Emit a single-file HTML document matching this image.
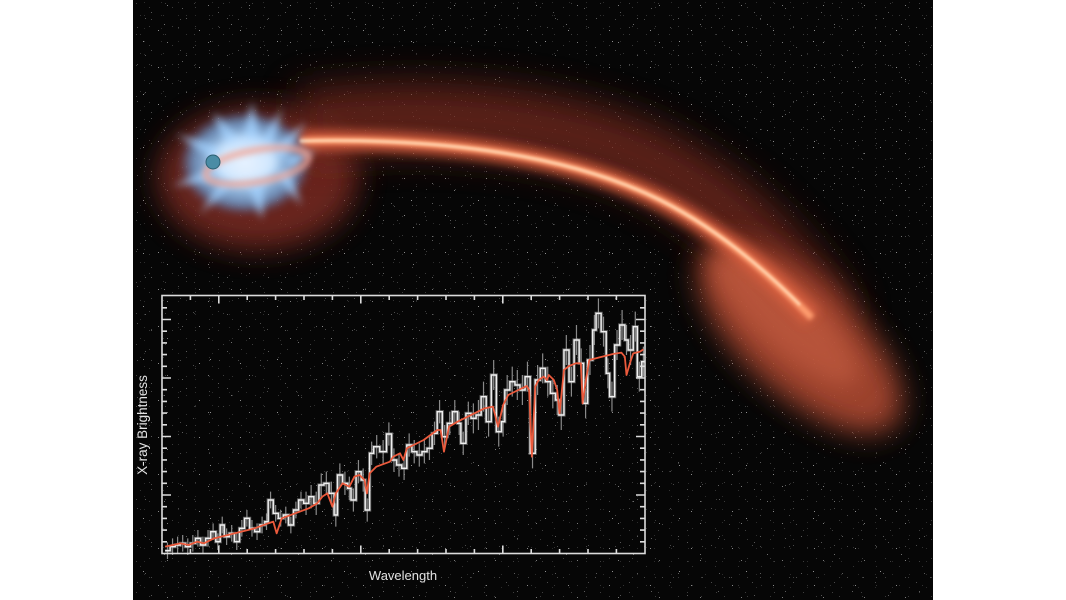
<!DOCTYPE html>
<html><head><meta charset="utf-8">
<style>
html,body{margin:0;padding:0;background:#fff;width:1066px;height:600px;overflow:hidden;}
svg{position:absolute;left:0;top:0;display:block;}
</style></head>
<body>
<svg width="1066" height="600" viewBox="0 0 1066 600" xmlns="http://www.w3.org/2000/svg">
<defs>
  <clipPath id="panel"><rect x="133" y="0" width="800" height="600"/></clipPath>
  <filter id="b18" filterUnits="userSpaceOnUse" x="0" y="0" width="1066" height="600"><feGaussianBlur stdDeviation="18"/></filter>
  <filter id="b14" filterUnits="userSpaceOnUse" x="0" y="0" width="1066" height="600"><feGaussianBlur stdDeviation="14"/></filter>
  <filter id="b10" filterUnits="userSpaceOnUse" x="0" y="0" width="1066" height="600"><feGaussianBlur stdDeviation="10"/></filter>
  <filter id="b5" filterUnits="userSpaceOnUse" x="0" y="0" width="1066" height="600"><feGaussianBlur stdDeviation="5"/></filter>
  <filter id="b4" filterUnits="userSpaceOnUse" x="0" y="0" width="1066" height="600"><feGaussianBlur stdDeviation="4"/></filter>
  <filter id="b3" filterUnits="userSpaceOnUse" x="0" y="0" width="1066" height="600"><feGaussianBlur stdDeviation="3"/></filter>
  <filter id="b2" filterUnits="userSpaceOnUse" x="0" y="0" width="1066" height="600"><feGaussianBlur stdDeviation="2"/></filter>
  <filter id="b1" filterUnits="userSpaceOnUse" x="0" y="0" width="1066" height="600"><feGaussianBlur stdDeviation="1.2"/></filter>
  <pattern id="st1" width="41" height="37" patternUnits="userSpaceOnUse">
    <rect x="3" y="5" width="1" height="1" fill="#7a7a7a"/>
    <rect x="22" y="18" width="1" height="1" fill="#5a5a5a"/>
    <rect x="35" y="30" width="1" height="1" fill="#8a8a8a"/>
    <rect x="14" y="27" width="1" height="1" fill="#4a4a4a"/>
  </pattern>
  <pattern id="st2" width="67" height="53" patternUnits="userSpaceOnUse">
    <rect x="9" y="41" width="1" height="1" fill="#909090"/>
    <rect x="48" y="8" width="1" height="1" fill="#5c5c5c"/>
    <rect x="30" y="24" width="1" height="1" fill="#6e6e6e"/>
    <rect x="59" y="47" width="1" height="1" fill="#4c4c4c"/>
    <rect x="17" y="12" width="1" height="1" fill="#555"/>
  </pattern>
  <pattern id="st3" width="29" height="31" patternUnits="userSpaceOnUse">
    <rect x="20" y="3" width="1" height="1" fill="#3e3e3e"/>
    <rect x="6" y="19" width="1" height="1" fill="#484848"/>
  </pattern>
  <pattern id="st4" width="23" height="19" patternUnits="userSpaceOnUse">
    <rect x="11" y="7" width="1" height="1" fill="#3a3a3a"/>
    <rect x="2" y="15" width="1" height="1" fill="#333"/>
  </pattern>
  <pattern id="st5" width="17" height="13" patternUnits="userSpaceOnUse">
    <rect x="8" y="2" width="1" height="1" fill="#2c2c2c"/>
  </pattern>
  <radialGradient id="blobg" cx="0.5" cy="0.5" r="0.5">
    <stop offset="0" stop-color="#eef6ff"/>
    <stop offset="0.4" stop-color="#b4dafc"/>
    <stop offset="0.8" stop-color="#6aaeea" stop-opacity="0.7"/>
    <stop offset="1" stop-color="#4a90e0" stop-opacity="0"/>
  </radialGradient>
</defs>

<g clip-path="url(#panel)">
  <rect x="133" y="0" width="800" height="600" fill="#060606"/>
  <rect x="133" y="0" width="800" height="600" fill="url(#st1)"/>
  <rect x="133" y="0" width="800" height="600" fill="url(#st2)"/>
  <rect x="133" y="0" width="800" height="600" fill="url(#st3)"/>
  <rect x="133" y="0" width="800" height="600" fill="url(#st4)"/>
  <rect x="133" y="0" width="800" height="600" fill="url(#st5)"/>

  <!-- halo around blob -->
  <ellipse cx="258" cy="178" rx="100" ry="72" fill="#7a2c20" opacity="0.85" filter="url(#b14)"/>
  <!-- broad stream envelope -->
  <path d="M300,125 C420,108 580,118 670,172 C740,212 790,268 830,330" fill="none" stroke="#6e271b" stroke-width="70" opacity="0.8" filter="url(#b18)"/>
  <!-- lobe -->
  <ellipse cx="800" cy="338" rx="128" ry="56" transform="rotate(42 800 338)" fill="#ad4a33" opacity="0.9" filter="url(#b14)"/>
  <ellipse cx="785" cy="318" rx="95" ry="30" transform="rotate(42 785 318)" fill="#c65e42" opacity="0.6" filter="url(#b10)"/>
  <!-- stream glow -->
  <path d="M300,141 C420,138 560,150 660,200 C720,230 770,275 812,318" fill="none" stroke="#dc6040" stroke-width="20" opacity="0.85" filter="url(#b5)"/>
  <path d="M300,141 C420,138 560,150 660,200 C720,230 770,275 812,318" fill="none" stroke="#ff9e70" stroke-width="7" filter="url(#b2)"/>
  <path d="M300,141 C420,138 560,150 660,200 C720,230 770,275 800,305" fill="none" stroke="#ffd8b4" stroke-width="2.5" filter="url(#b1)"/>

  <!-- blue blob -->
  <ellipse cx="245" cy="163" rx="66" ry="52" fill="url(#blobg)" filter="url(#b4)"/>
  <g fill="#a4d3ff" opacity="0.8" filter="url(#b4)">
    <polygon points="240,150 252,102 262,150"/>
    <polygon points="228,150 213,112 245,145"/>
    <polygon points="255,150 282,108 270,154"/>
    <polygon points="270,150 306,122 282,160"/>
    <polygon points="215,160 176,134 222,148"/>
    <polygon points="212,168 172,186 216,180"/>
    <polygon points="222,180 200,214 234,183"/>
    <polygon points="248,184 262,220 264,180"/>
    <polygon points="275,174 302,206 288,170"/>
    <polygon points="286,158 318,150 290,168"/>
  </g>
  <ellipse cx="245" cy="160" rx="32" ry="22" fill="#e4f0ff" opacity="0.6" filter="url(#b5)"/>
  <!-- ring -->
  <ellipse cx="257" cy="166" rx="52" ry="16" transform="rotate(-10 257 166)" fill="none" stroke="#f4a290" stroke-width="7" opacity="0.7" filter="url(#b3)"/>
  <!-- sphere -->
  <circle cx="213" cy="162" r="7" fill="#4a8ca5" stroke="#2c5f72" stroke-width="1"/>
</g>

<!-- plot data in reference zoom coordinates -->
<svg x="133" y="280" width="530" height="320" viewBox="0 0 1568 960" preserveAspectRatio="none" overflow="visible">
  <path d="M102 787v50M117 775v50M132 770v50M147 765v50M162 775v50M177 765v50M192 750v50M207 770v50M222 750v50M237 730v50M251 760v50M264 710v50M277 745v50M292 735v50M307 760v50M322 720v50M337 690v50M352 720v50M367 730v50M382 710v50M395 700v50M407 635v50M422 675v50M437 690v50M452 680v50M467 710v50M482 665v50M497 635v50M512 635v70M527 615v70M542 635v70M557 580v70M572 575v70M587 605v70M600 670v70M612 550v70M627 575v70M640 590v70M652 625v70M667 540v70M681 565v70M693 655v70M706 485v70M721 465v70M740 480v70M757 427v70M772 505v70M787 520v70M802 530v70M817 460v70M832 480v70M847 490v70M862 480v70M877 470v70M892 425v70M907 360v70M922 435v70M937 395v70M952 360v70M965 395v70M977 455v70M992 365v70M1007 370v90M1022 360v90M1037 305v90M1052 380v90M1067 240v90M1082 410v90M1095 380v90M1107 285v90M1122 260v90M1137 270v90M1152 285v90M1167 245v90M1182 475v90M1197 255v90M1212 220v90M1227 260v90M1242 295v90M1255 315v90M1267 360v90M1282 165v90M1297 260v90M1312 135v90M1326 205v90M1339 325v90M1352 195v90M1365 105v90M1377 55v90M1392 110v90M1405 235v90M1417 305v90M1432 150v90M1447 90v90M1460 135v90M1472 165v90M1486 95v90M1498 245v90M1510 200v90" fill="none" stroke="#8a8a8a" stroke-width="1.2" vector-effect="non-scaling-stroke"/>
  <path d="M95,812H110V800H125V795H140V790H155V800H170V790H185V775H200V795H215V775H230V755H245V785H258V735H270V770H285V760H300V785H315V745H330V715H345V745H360V755H375V735H390V725H400V660H415V700H430V715H445V705H460V735H475V690H490V660H505V670H520V650H535V670H550V615H565V610H580V640H595V705H605V585H620V610H635V625H645V660H660V575H675V600H687V690H700V520H712V500H730V515H750V462H765V540H780V555H795V565H810V495H825V515H840V525H855V515H870V505H885V460H900V395H915V470H930V430H945V395H960V430H970V490H985V400H1000V415H1015V405H1030V350H1045V425H1060V285H1075V455H1090V425H1100V330H1115V305H1130V315H1145V330H1160V290H1175V520H1190V300H1205V265H1220V305H1235V340H1250V360H1260V405H1275V210H1290V305H1305V180H1320V250H1333V370H1345V240H1360V150H1370V100H1385V155H1400V280H1410V350H1425V195H1440V135H1455V180H1465V210H1480V140H1492V290H1505V245H1515" fill="none" stroke="#9a9a9a" stroke-width="3.2" vector-effect="non-scaling-stroke" opacity="0.6"/>
  <path d="M95,812H110V800H125V795H140V790H155V800H170V790H185V775H200V795H215V775H230V755H245V785H258V735H270V770H285V760H300V785H315V745H330V715H345V745H360V755H375V735H390V725H400V660H415V700H430V715H445V705H460V735H475V690H490V660H505V670H520V650H535V670H550V615H565V610H580V640H595V705H605V585H620V610H635V625H645V660H660V575H675V600H687V690H700V520H712V500H730V515H750V462H765V540H780V555H795V565H810V495H825V515H840V525H855V515H870V505H885V460H900V395H915V470H930V430H945V395H960V430H970V490H985V400H1000V415H1015V405H1030V350H1045V425H1060V285H1075V455H1090V425H1100V330H1115V305H1130V315H1145V330H1160V290H1175V520H1190V300H1205V265H1220V305H1235V340H1250V360H1260V405H1275V210H1290V305H1305V180H1320V250H1333V370H1345V240H1360V150H1370V100H1385V155H1400V280H1410V350H1425V195H1440V135H1455V180H1465V210H1480V140H1492V290H1505V245H1515" fill="none" stroke="#f0f0f0" stroke-width="1.4" vector-effect="non-scaling-stroke"/>
  <path d="M95,800 L140,790 165,795 190,785 210,790 240,775 300,760 360,745 400,730 415,725 425,760 440,715 480,700 520,685 545,670 560,650 575,640 590,680 600,640 620,610 640,620 655,590 670,585 685,600 692,640 700,580 720,560 760,545 770,530 790,520 800,540 810,505 830,495 860,480 880,465 900,450 910,450 920,515 935,440 960,425 990,410 1020,395 1040,385 1065,380 1080,440 1095,375 1110,345 1140,330 1165,318 1172,330 1180,530 1190,320 1200,300 1215,290 1225,300 1230,285 1245,300 1255,330 1262,400 1275,270 1290,258 1310,250 1325,250 1330,370 1340,300 1350,240 1380,232 1420,222 1445,218 1455,230 1460,285 1470,250 1480,220 1500,215 1510,208" fill="none" stroke="#ec5a3c" stroke-width="1.8" stroke-linejoin="round" vector-effect="non-scaling-stroke"/>
</svg>

<!-- axes box and ticks -->
<g stroke="#dcdcdc" stroke-width="1.6" fill="none">
  <rect x="162" y="295.5" width="483" height="258"/>
  <path d="M190.4 295.5v4.5M218.8 295.5v8M247.2 295.5v4.5M275.6 295.5v4.5M304 295.5v4.5M332.4 295.5v4.5M360.8 295.5v8M389.2 295.5v4.5M417.6 295.5v4.5M446 295.5v4.5M474.4 295.5v4.5M502.8 295.5v8M531.2 295.5v4.5M559.6 295.5v4.5M588 295.5v4.5M616.4 295.5v4.5"/>
  <path d="M190.4 553.5v-4.5M218.8 553.5v-8M247.2 553.5v-4.5M275.6 553.5v-4.5M304 553.5v-4.5M332.4 553.5v-4.5M360.8 553.5v-8M389.2 553.5v-4.5M417.6 553.5v-4.5M446 553.5v-4.5M474.4 553.5v-4.5M502.8 553.5v-8M531.2 553.5v-4.5M559.6 553.5v-4.5M588 553.5v-4.5M616.4 553.5v-4.5"/>
  <path d="M162 541.8h5M162 530.1h5M162 518.4h5M162 506.7h5M162 495h9M162 483.3h5M162 471.6h5M162 459.9h5M162 448.2h5M162 436.5h9M162 424.8h5M162 413.1h5M162 401.4h5M162 389.7h5M162 378h9M162 366.3h5M162 354.6h5M162 342.9h5M162 331.2h5M162 319.5h9M162 307.8h5"/>
  <path d="M645 541.8h-5M645 530.1h-5M645 518.4h-5M645 506.7h-5M645 495h-9M645 483.3h-5M645 471.6h-5M645 459.9h-5M645 448.2h-5M645 436.5h-9M645 424.8h-5M645 413.1h-5M645 401.4h-5M645 389.7h-5M645 378h-9M645 366.3h-5M645 354.6h-5M645 342.9h-5M645 331.2h-5M645 319.5h-9M645 307.8h-5"/>
</g>

<text x="403" y="580" fill="#e2e2e2" font-family="Liberation Sans, Arial, sans-serif" font-size="13" text-anchor="middle">Wavelength</text>
<text x="0" y="0" transform="translate(147 425) rotate(-90)" fill="#e2e2e2" font-family="Liberation Sans, Arial, sans-serif" font-size="13.5" text-anchor="middle">X-ray Brightness</text>
</svg>
</body></html>
